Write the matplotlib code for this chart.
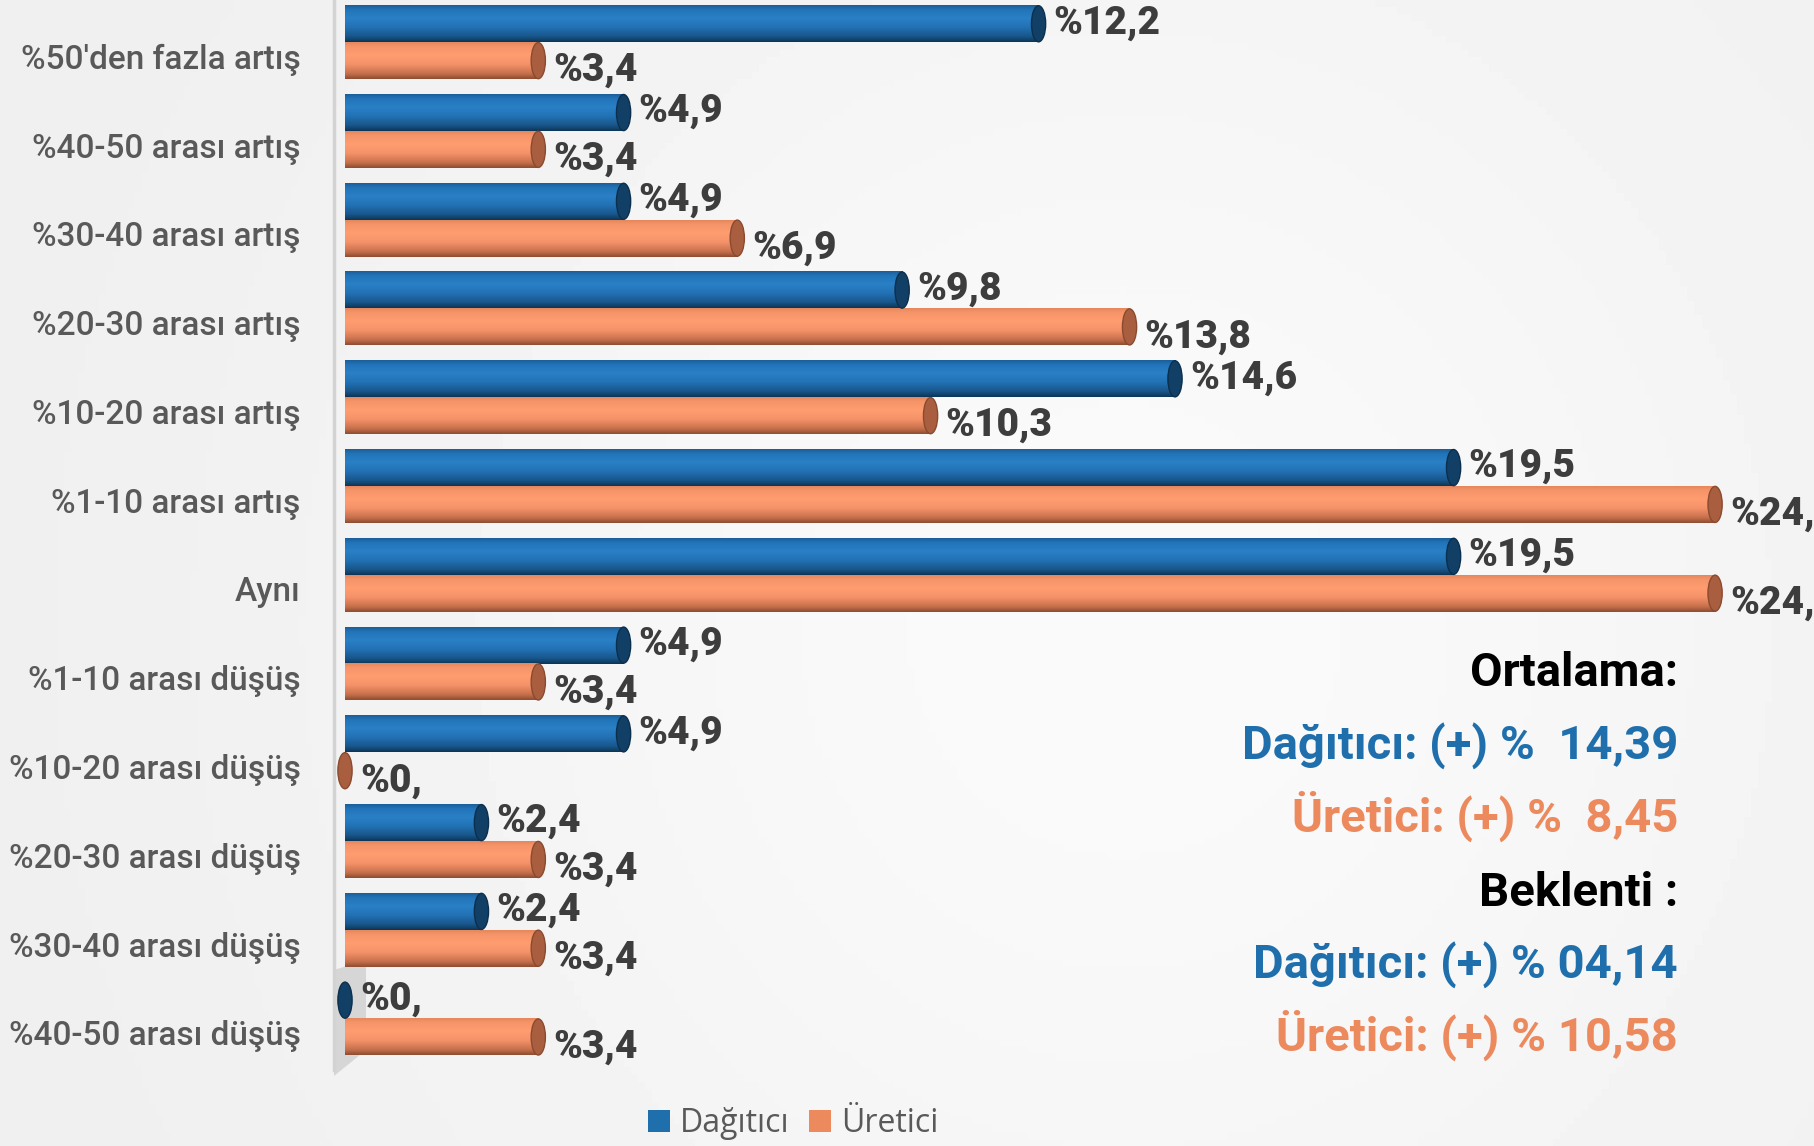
import numpy as np
import matplotlib.pyplot as plt
from matplotlib.colors import LinearSegmentedColormap
from matplotlib.patches import Ellipse, Patch, Polygon

# --- veri -------------------------------------------------------------
categories = [
    "%50'den fazla artış", "%40-50 arası artış", "%30-40 arası artış",
    "%20-30 arası artış", "%10-20 arası artış", "%1-10 arası artış",
    "Aynı", "%1-10 arası düşüş", "%10-20 arası düşüş",
    "%20-30 arası düşüş", "%30-40 arası düşüş", "%40-50 arası düşüş",
]
dagitici = [12.2, 4.9, 4.9, 9.8, 14.6, 19.5, 19.5, 4.9, 4.9, 2.4, 2.4, 0.0]
uretici = [3.4, 3.4, 6.9, 13.8, 10.3, 24.1, 24.1, 3.4, 0.0, 3.4, 3.4, 3.4]
series_names = ["Dağıtıcı", "Üretici"]

summary_texts = [
    "Ortalama:",
    "Dağıtıcı: (+) %  14,39",
    "Üretici: (+) %  8,45",
    "Beklenti :",
    "Dağıtıcı: (+) % 04,14",
    "Üretici: (+) % 10,58",
]
summary_kinds = ["head", "d", "u", "head", "d", "u"]

# --- stil -------------------------------------------------------------
W, H = 1815, 1146
PX_PER_UNIT = 56.85
BLUE_TXT = "#1f6fad"
ORANGE_TXT = "#ec8a5e"
LABEL_INK = "#595959"
VALUE_INK = "#3d3d3d"
FONT = "Roboto"

BLUE_CMAP = LinearSegmentedColormap.from_list("blue_cyl", [
    (0.0, "#1b5e98"), (0.12, "#2274b8"), (0.35, "#2a80c6"),
    (0.6, "#2272b4"), (0.85, "#18568a"), (1.0, "#0d3556")])
ORANGE_CMAP = LinearSegmentedColormap.from_list("orange_cyl", [
    (0.0, "#e4865c"), (0.12, "#f7956a"), (0.35, "#ff9d70"),
    (0.6, "#f5926a"), (0.85, "#c8714c"), (1.0, "#8c4c31")])
CAP_COLORS = {"d": ("#123f66", "#0c2f4d"), "u": ("#a95f3f", "#8a4a30")}

BAR_H = 0.415
CAP_W = 0.25


def fmt(v):
    if v == 0:
        return "%0,"
    return ("%" + f"{v:.1f}").replace(".", ",")


def cylinder(ax, v, yc, cmap, kind):
    grad = np.linspace(0, 1, 128).reshape(-1, 1)
    if v > 0:
        ax.imshow(grad, cmap=cmap, aspect="auto", origin="lower",
                  extent=(0, v, yc - BAR_H / 2, yc + BAR_H / 2),
                  interpolation="bicubic", zorder=2)
    face, edge = CAP_COLORS[kind]
    ax.add_patch(Ellipse((v, yc), CAP_W, BAR_H * 0.98, facecolor=face,
                         edgecolor=edge, linewidth=1, zorder=3))


fig = plt.figure(figsize=(W / 100, H / 100), dpi=100)

# arka plan: hafif gri degrade
bg = fig.add_axes([0, 0, 1, 1], zorder=-5)
xx = np.linspace(0, 1, 256)
yy = np.linspace(0, 1, 160)
X, Y = np.meshgrid(xx, yy)
shade = 0.935 + 0.045 * np.exp(-((X - 0.62) ** 2 / 0.18 + (Y - 0.55) ** 2 / 0.5))
bg.imshow(shade, cmap="gray", vmin=0, vmax=1, aspect="auto", extent=(0, 1, 0, 1))
# 3B duvar gölgesi (sol alt)
bg.add_patch(Polygon([(334 / W, 1 - 970 / H), (366 / W, 1 - 960 / H),
                      (366 / W, 1 - 1050 / H), (334 / W, 1 - 1076 / H)],
                     closed=True, facecolor="#c4c4c4", edgecolor="none",
                     alpha=0.6))
bg.set_xlim(0, 1)
bg.set_ylim(0, 1)
bg.axis("off")

ax = fig.add_axes([334 / W, 1 - 1070 / H, 1 - 334 / W, 1070 / H])
ax.patch.set_alpha(0)

y = np.arange(len(categories))
for i, (d, u) in enumerate(zip(dagitici, uretici)):
    yb = y[i] - BAR_H / 2
    yo = y[i] + BAR_H / 2
    cylinder(ax, d, yb, BLUE_CMAP, "d")
    cylinder(ax, u, yo, ORANGE_CMAP, "u")
    ax.annotate(fmt(d), (d + CAP_W / 2, yb), xytext=(8, 1), textcoords="offset pixels",
                ha="left", va="center", fontsize=28, fontweight="heavy",
                color=VALUE_INK, family=FONT, zorder=4)
    ax.annotate(fmt(u), (u + CAP_W / 2, yo), xytext=(8, -10), textcoords="offset pixels",
                ha="left", va="center", fontsize=28, fontweight="heavy",
                color=VALUE_INK, family=FONT, zorder=4)

ax.set_xlim(-11 / PX_PER_UNIT, (W - 345) / PX_PER_UNIT)
ax.set_ylim((1070 - 42.2) / 88.76, -42.2 / 88.76)
ax.set_yticks(y + 0.16)
ax.set_yticklabels(categories, fontsize=24, color=LABEL_INK, family=FONT,
                   fontweight="medium")
ax.tick_params(axis="y", length=0, pad=24)
ax.set_xticks([])
for s in ["top", "right", "bottom"]:
    ax.spines[s].set_visible(False)
ax.spines["left"].set_color("#d3d3d3")
ax.spines["left"].set_linewidth(2.5)

# sağdaki özet metinleri
baselines = [686, 759, 832, 906, 978, 1051]
kind_color = {"head": "#000000", "d": BLUE_TXT, "u": ORANGE_TXT}
for txt, kind, b in zip(summary_texts, summary_kinds, baselines):
    fig.text(1678 / W, 1 - b / H, txt, ha="right", va="baseline",
             fontsize=34, fontweight="bold", color=kind_color[kind], family=FONT)

handles = [Patch(facecolor="#1f6fad", label=series_names[0]),
           Patch(facecolor="#ec8a5e", label=series_names[1])]
fig.legend(handles=handles, loc="lower center", bbox_to_anchor=(793 / W, -0.02),
           ncol=2, frameon=False, handlelength=0.7, handleheight=0.7,
           handletextpad=0.3, columnspacing=0.6,
           prop={"family": "Open Sans", "size": 23}, labelcolor=LABEL_INK)

fig.savefig("out.png", dpi=100)
